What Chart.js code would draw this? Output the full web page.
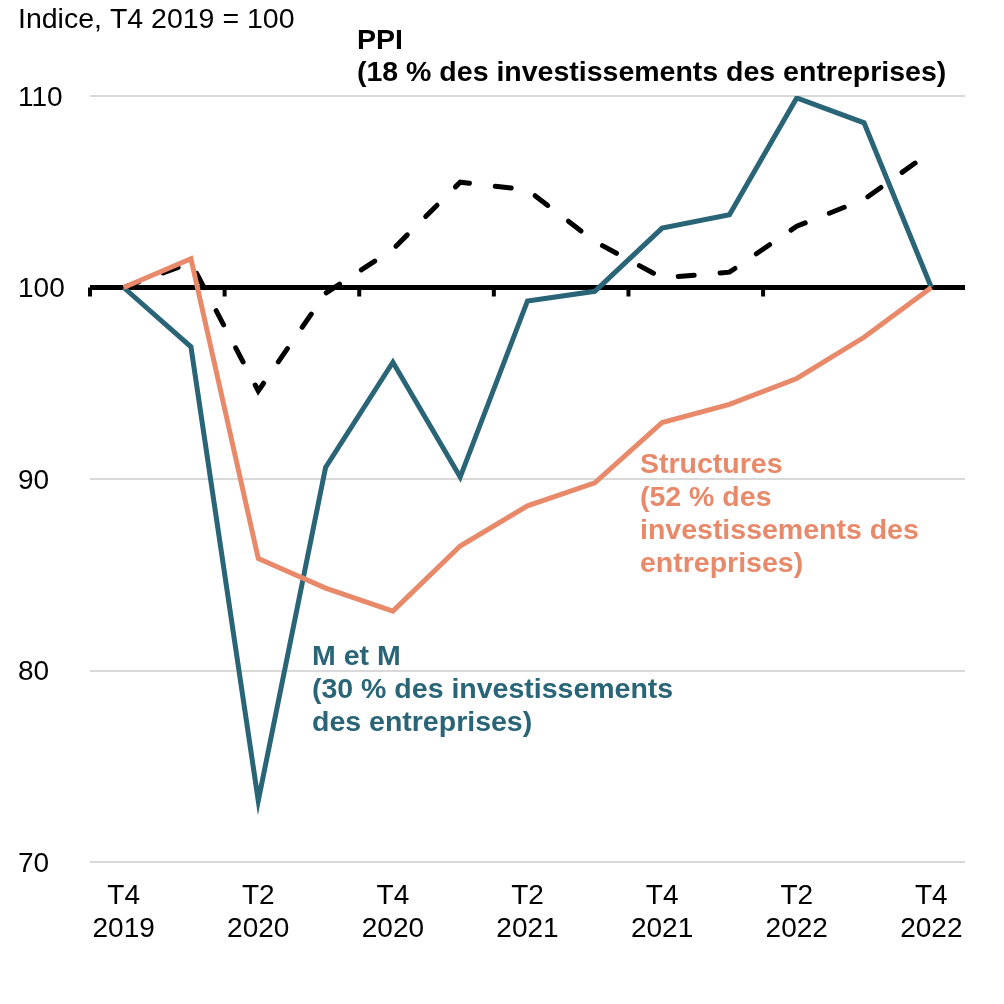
<!DOCTYPE html>
<html><head><meta charset="utf-8">
<script src="https://cdn.jsdelivr.net/npm/chart.js@4.4.0/dist/chart.umd.min.js"></script>
<style>html,body{margin:0;padding:0;background:#fff;} #wrap{width:1004px;height:1004px;position:relative;}</style>
</head><body><div id="wrap"><canvas id="c"></canvas></div>
<script>
const categories = [['T4','2019'],['T1','2020'],['T2','2020'],['T3','2020'],['T4','2020'],['T1','2021'],['T2','2021'],['T3','2021'],['T4','2021'],['T1','2022'],['T2','2022'],['T3','2022'],['T4','2022']];
const mmValues = [100, 96.9, 73.2, 90.6, 96.1, 90.1, 99.3, 99.8, 103.1, 103.8, 109.9, 108.6, 100];
const structuresValues = [100, 101.5, 85.85, 84.3, 83.1, 86.5, 88.6, 89.8, 92.95, 93.9, 95.25, 97.4, 100];
const ppiValues = [100, 101.3, 94.6, 99.7, 102.0, 105.5, 105.1, 102.4, 100.5, 100.8, 103.2, 104.6, 107.1];
const yTicks = [70, 80, 90, 100, 110];
const titleText = 'Indice, T4 2019 = 100';
const ppiLabel = ['PPI', '(18 % des investissements des entreprises)'];
const structLabel = ['Structures', '(52 % des', 'investissements des', 'entreprises)'];
const mmLabel = ['M et M', '(30 % des investissements', 'des entreprises)'];

const FONT = "'Liberation Sans', Arial, sans-serif";
const TEAL = '#296577';
const ORANGE = '#e8896a';

const overlay = {
  id: 'overlay',
  beforeDatasetsDraw(chart) {
    const ctx = chart.ctx, x = chart.scales.x, y = chart.scales.y;
    const y100 = y.getPixelForValue(100);
    ctx.save();
    ctx.strokeStyle = '#000';
    ctx.lineWidth = 4;
    for (let i = 0; i < categories.length - 1; i += 2) {
      const px = x.getPixelForValue(i - 0.5);
      ctx.beginPath();
      ctx.moveTo(px, y100);
      ctx.lineTo(px, y100 + 9);
      ctx.stroke();
    }
    ctx.restore();
  },
  afterDraw(chart) {
    const ctx = chart.ctx;
    ctx.save();
    ctx.textBaseline = 'alphabetic';
    ctx.textAlign = 'left';
    ctx.fillStyle = '#000';
    ctx.font = '28.5px ' + FONT;
    ctx.fillText(titleText, 18, 28);
    ctx.font = 'bold 28.5px ' + FONT;
    ppiLabel.forEach((t, i) => ctx.fillText(t, 357, 49 + i * 32));
    ctx.fillStyle = ORANGE;
    structLabel.forEach((t, i) => ctx.fillText(t, 640, 473 + i * 33));
    ctx.fillStyle = TEAL;
    mmLabel.forEach((t, i) => ctx.fillText(t, 312, 665 + i * 33));
    ctx.restore();
  }
};

new Chart(document.getElementById('c'), {
  type: 'line',
  data: {
    labels: categories,
    datasets: [
      { label: 'Structures', data: structuresValues, borderColor: ORANGE, borderWidth: 5, pointRadius: 0, tension: 0, fill: false },
      { label: 'M et M', data: mmValues, borderColor: TEAL, borderWidth: 5, pointRadius: 0, tension: 0, fill: false },
      { label: 'PPI', data: ppiValues, borderColor: '#000', borderWidth: 5, borderDash: [16, 26], borderCapStyle: 'round', pointRadius: 0, tension: 0, fill: false }
    ]
  },
  options: {
    responsive: true,
    maintainAspectRatio: false,
    animation: false,
    devicePixelRatio: 1,
    layout: { padding: { left: 18, right: 39, top: 96, bottom: 0 } },
    plugins: { legend: { display: false }, tooltip: { enabled: false }, title: { display: false } },
    scales: {
      x: {
        type: 'category',
        offset: true,
        grid: { display: false, drawTicks: false },
        border: { display: false },
        ticks: {
          autoSkip: false, maxRotation: 0, padding: 18, color: '#000',
          font: { family: FONT, size: 28, lineHeight: 1.18 },
          callback(value, index) { return index % 2 === 0 ? this.getLabelForValue(value) : ''; }
        },
        afterFit(s) { s.height = 142; }
      },
      y: {
        min: 70, max: 110,
        afterBuildTicks(s) { s.ticks = yTicks.map(v => ({ value: v })); },
        grid: {
          color: (c) => c.tick && c.tick.value === 100 ? '#000' : '#d9d9d9',
          lineWidth: (c) => c.tick && c.tick.value === 100 ? 5 : 2,
          drawTicks: false
        },
        border: { display: false },
        ticks: { crossAlign: 'far', color: '#000', font: { family: FONT, size: 28 }, padding: 0, labelOffset: 2 },
        afterFit(s) { s.width = 72; }
      }
    }
  },
  plugins: [overlay]
});
</script>
</body></html>
